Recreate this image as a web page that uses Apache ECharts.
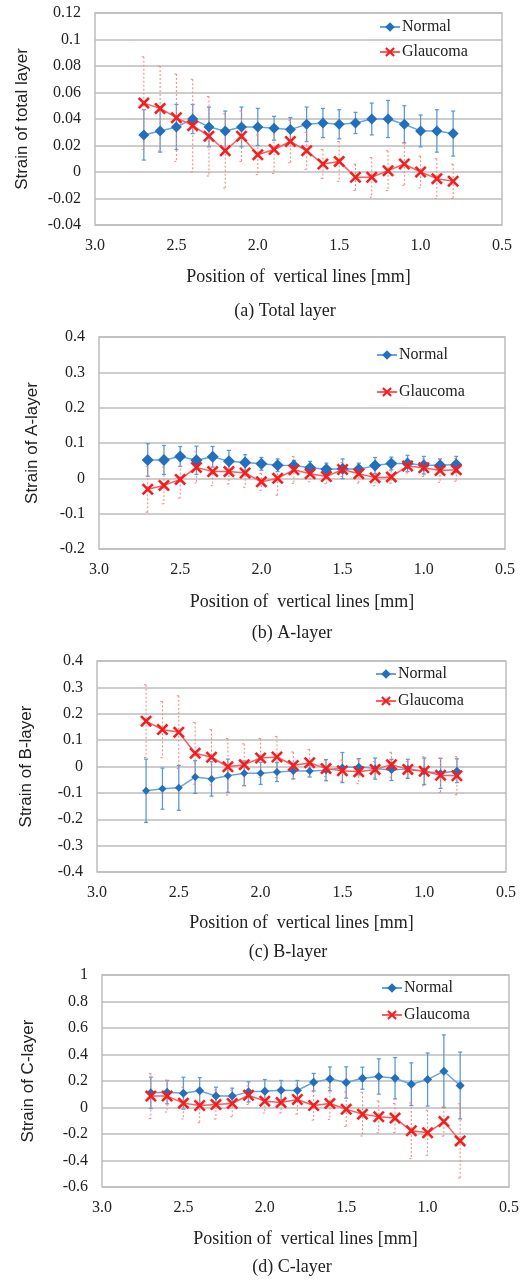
<!DOCTYPE html>
<html>
<head>
<meta charset="utf-8">
<script src="https://cdn.jsdelivr.net/npm/echarts@6/dist/echarts.min.js"></script>
<style>
  html, body { margin: 0; padding: 0; background: #fff; }
  #chart { width: 531px; height: 1280px; }
</style>
</head>
<body>
<div id="chart"></div>
<script>
// positions of the vertical lines [mm]
const positions = [2.7, 2.6, 2.5, 2.4, 2.3, 2.2, 2.1, 2.0, 1.9, 1.8, 1.7, 1.6, 1.5, 1.4, 1.3, 1.2, 1.1, 1.0, 0.9, 0.8]
const xTicks = [3.0, 2.5, 2.0, 1.5, 1.0, 0.5]

// (a) total layer
const totalNormal = [0.028, 0.031, 0.034, 0.040, 0.034, 0.031, 0.034, 0.034, 0.033, 0.032, 0.036, 0.037, 0.036, 0.037, 0.040, 0.040, 0.036, 0.031, 0.031, 0.029]
const totalNormalSd = [0.019, 0.016, 0.017, 0.011, 0.015, 0.015, 0.015, 0.014, 0.009, 0.009, 0.013, 0.011, 0.011, 0.008, 0.012, 0.014, 0.014, 0.012, 0.016, 0.017]
const totalGlaucoma = [0.052, 0.048, 0.041, 0.035, 0.027, 0.016, 0.027, 0.013, 0.017, 0.023, 0.016, 0.006, 0.008, -0.004, -0.004, 0.001, 0.006, 0.000, -0.005, -0.007]
const totalGlaucomaSd = [0.035, 0.032, 0.033, 0.035, 0.030, 0.028, 0.019, 0.015, 0.018, 0.016, 0.014, 0.011, 0.015, 0.010, 0.015, 0.015, 0.016, 0.012, 0.015, 0.013]

// (b) A-layer
const aNormal = [0.052, 0.052, 0.062, 0.051, 0.061, 0.048, 0.045, 0.041, 0.037, 0.036, 0.030, 0.026, 0.027, 0.026, 0.036, 0.042, 0.042, 0.037, 0.037, 0.039]
const aNormalSd = [0.046, 0.041, 0.028, 0.040, 0.029, 0.031, 0.022, 0.018, 0.018, 0.015, 0.018, 0.017, 0.028, 0.017, 0.023, 0.018, 0.023, 0.025, 0.018, 0.023]
const aGlaucoma = [-0.031, -0.020, -0.003, 0.031, 0.019, 0.019, 0.015, -0.010, 0.000, 0.024, 0.013, 0.005, 0.025, 0.013, 0.002, 0.004, 0.035, 0.030, 0.022, 0.024]
const aGlaucomaSd = [0.065, 0.052, 0.053, 0.044, 0.040, 0.035, 0.040, 0.024, 0.048, 0.038, 0.023, 0.020, 0.020, 0.026, 0.023, 0.018, 0.020, 0.025, 0.033, 0.032]

// (c) B-layer
const bNormal = [-0.092, -0.084, -0.081, -0.040, -0.047, -0.035, -0.026, -0.026, -0.021, -0.017, -0.017, -0.014, -0.004, -0.001, -0.008, -0.013, -0.009, -0.018, -0.026, -0.016]
const bNormalSd = [0.120, 0.078, 0.085, 0.062, 0.065, 0.063, 0.047, 0.042, 0.036, 0.030, 0.023, 0.040, 0.057, 0.031, 0.040, 0.040, 0.036, 0.050, 0.057, 0.045]
const bGlaucoma = [0.172, 0.140, 0.130, 0.050, 0.035, -0.001, 0.007, 0.032, 0.036, 0.004, 0.014, -0.008, -0.016, -0.020, -0.011, 0.007, -0.011, -0.018, -0.033, -0.035]
const bGlaucomaSd = [0.138, 0.107, 0.138, 0.117, 0.105, 0.107, 0.079, 0.074, 0.078, 0.051, 0.051, 0.030, 0.040, 0.045, 0.030, 0.047, 0.030, 0.055, 0.065, 0.072]

// (d) C-layer
const cNormal = [0.111, 0.116, 0.108, 0.126, 0.086, 0.086, 0.118, 0.123, 0.131, 0.128, 0.191, 0.216, 0.189, 0.221, 0.234, 0.221, 0.176, 0.211, 0.274, 0.166]
const cNormalSd = [0.118, 0.088, 0.120, 0.100, 0.067, 0.060, 0.076, 0.088, 0.073, 0.076, 0.066, 0.090, 0.118, 0.083, 0.133, 0.156, 0.161, 0.200, 0.274, 0.252]
const cGlaucoma = [0.086, 0.086, 0.033, 0.015, 0.023, 0.030, 0.093, 0.048, 0.038, 0.060, 0.015, 0.030, -0.013, -0.050, -0.070, -0.080, -0.176, -0.191, -0.106, -0.252]
const cGlaucomaSd = [0.170, 0.120, 0.120, 0.130, 0.110, 0.100, 0.070, 0.090, 0.080, 0.110, 0.110, 0.120, 0.130, 0.165, 0.120, 0.110, 0.210, 0.170, 0.110, 0.280]

const serif = '"Liberation Serif", "Times New Roman", serif'
const sans = '"Liberation Sans", Arial, sans-serif'
const xMark = 'path://M1.5,0L5,3.5L8.5,0L10,1.5L6.5,5L10,8.5L8.5,10L5,6.5L1.5,10L0,8.5L3.5,5L0,1.5Z'

const panels = [
  { normal: totalNormal, normalSd: totalNormalSd, glaucoma: totalGlaucoma, glaucomaSd: totalGlaucomaSd,
    yName: 'Strain of total layer', caption: '(a) Total layer', min: -0.04, max: 0.12, interval: 0.02,
    grid: { left: 95, top: 13, width: 407, height: 212 }, yGap: 64, xGap: 43, legend: { left: 379, top: 19, gap: 9 },
    capX: 285, capY: 311, diamond: 11, cross: 12 },
  { normal: aNormal, normalSd: aNormalSd, glaucoma: aGlaucoma, glaucomaSd: aGlaucomaSd,
    yName: 'Strain of A-layer', caption: '(b) A-layer', min: -0.2, max: 0.4, interval: 0.1,
    grid: { left: 99, top: 337, width: 406, height: 212 }, yGap: 58, xGap: 44, legend: { left: 376, top: 347, gap: 21 },
    capX: 292, capY: 633, diamond: 12, cross: 12 },
  { normal: bNormal, normalSd: bNormalSd, glaucoma: bGlaucoma, glaucomaSd: bGlaucomaSd,
    yName: 'Strain of B-layer', caption: '(c) B-layer', min: -0.4, max: 0.4, interval: 0.1,
    grid: { left: 97, top: 661, width: 409, height: 211 }, yGap: 62, xGap: 42, legend: { left: 375, top: 666, gap: 11 },
    capX: 288, capY: 952, diamond: 8, cross: 12 },
  { normal: cNormal, normalSd: cNormalSd, glaucoma: cGlaucoma, glaucomaSd: cGlaucomaSd,
    yName: 'Strain of C-layer', caption: '(d) C-layer', min: -0.6, max: 1, interval: 0.2,
    grid: { left: 102, top: 975, width: 407, height: 212 }, yGap: 65, xGap: 43, legend: { left: 381, top: 980, gap: 11 },
    capX: 292, capY: 1267, diamond: 9, cross: 12 }
]

function errorBars(color, dash) {
  return function(params, api) {
    const x = api.value(0)
    const y = api.value(1)
    const e = api.value(2)
    const top = api.coord([x, y + e])
    const bot = api.coord([x, y - e])
    const style = { stroke: color, lineWidth: dash ? 1 : 1.3, lineDash: dash ? [2, 2] : null }
    return {
      type: 'group',
      children: [
        { type: 'line', shape: { x1: top[0], y1: top[1], x2: bot[0], y2: bot[1] }, style: style },
        { type: 'line', shape: { x1: top[0] - 2, y1: top[1], x2: top[0] + 2, y2: top[1] }, style: style },
        { type: 'line', shape: { x1: bot[0] - 2, y1: bot[1], x2: bot[0] + 2, y2: bot[1] }, style: style }
      ]
    }
  }
}

const pairs = (vals) => positions.map((p, i) => [p, vals[i]])
const triples = (vals, sd) => positions.map((p, i) => [p, vals[i], sd[i]])

const option = {
  animation: false,
  grid: [], xAxis: [], yAxis: [], series: [], legend: [], graphic: []
}

panels.forEach((p, i) => {
  option.grid.push({ ...p.grid, show: true, borderColor: '#bdbdbd', borderWidth: 1.5, backgroundColor: 'transparent' })
  option.xAxis.push({
    type: 'value', gridIndex: i, min: xTicks[xTicks.length - 1], max: xTicks[0], interval: 0.5, inverse: true,
    name: 'Position of  vertical lines [mm]', nameLocation: 'middle', nameGap: p.xGap,
    nameTextStyle: { fontFamily: serif, fontSize: 18, color: '#222' },
    axisLine: { show: false }, axisTick: { show: false }, splitLine: { show: false },
    axisLabel: { fontFamily: serif, fontSize: 16, color: '#222', margin: 13, formatter: v => v.toFixed(1) }
  })
  option.yAxis.push({
    type: 'value', gridIndex: i, min: p.min, max: p.max, interval: p.interval,
    name: p.yName, nameLocation: 'middle', nameGap: p.yGap,
    nameTextStyle: { fontFamily: sans, fontSize: 17, color: '#222' },
    axisLine: { show: false }, axisTick: { show: false },
    splitLine: { lineStyle: { color: '#bdbdbd', width: 1.5 } },
    axisLabel: { fontFamily: serif, fontSize: 16, color: '#222', margin: 14 }
  })
  option.series.push(
    { type: 'custom', name: 'Normal SD', xAxisIndex: i, yAxisIndex: i, z: 1, silent: true,
      renderItem: errorBars('#5b9bd5', false), data: triples(p.normal, p.normalSd), encode: { x: 0, y: 1 } },
    { type: 'custom', name: 'Glaucoma SD', xAxisIndex: i, yAxisIndex: i, z: 1, silent: true,
      renderItem: errorBars('#ff7f7f', true), data: triples(p.glaucoma, p.glaucomaSd), encode: { x: 0, y: 1 } },
    { type: 'line', name: 'Normal', xAxisIndex: i, yAxisIndex: i, z: 3,
      symbol: 'diamond', symbolSize: p.diamond, itemStyle: { color: '#1f70c1' },
      lineStyle: { color: '#6aa3da', width: 1.5 }, data: pairs(p.normal) },
    { type: 'line', name: 'Glaucoma', xAxisIndex: i, yAxisIndex: i, z: 4,
      symbol: xMark, symbolSize: p.cross, itemStyle: { color: '#ff1a1a' },
      lineStyle: { color: '#ff5c5c', width: 1.5 }, data: pairs(p.glaucoma) }
  )
  option.legend.push({
    orient: 'vertical', left: p.legend.left, top: p.legend.top, itemGap: p.legend.gap,
    itemWidth: 20, itemHeight: 12, padding: 0, selectedMode: false,
    textStyle: { fontFamily: serif, fontSize: 16, color: '#222', padding: [0, 0, 0, -3] },
    data: ['Normal', 'Glaucoma']
  })
  option.graphic.push({
    type: 'text', x: p.capX, y: p.capY,
    style: { text: p.caption, font: '18px ' + serif, fill: '#222', textAlign: 'center', textVerticalAlign: 'middle' }
  })
})

const chart = echarts.init(document.getElementById('chart'))
chart.setOption(option)
</script>
</body>
</html>
